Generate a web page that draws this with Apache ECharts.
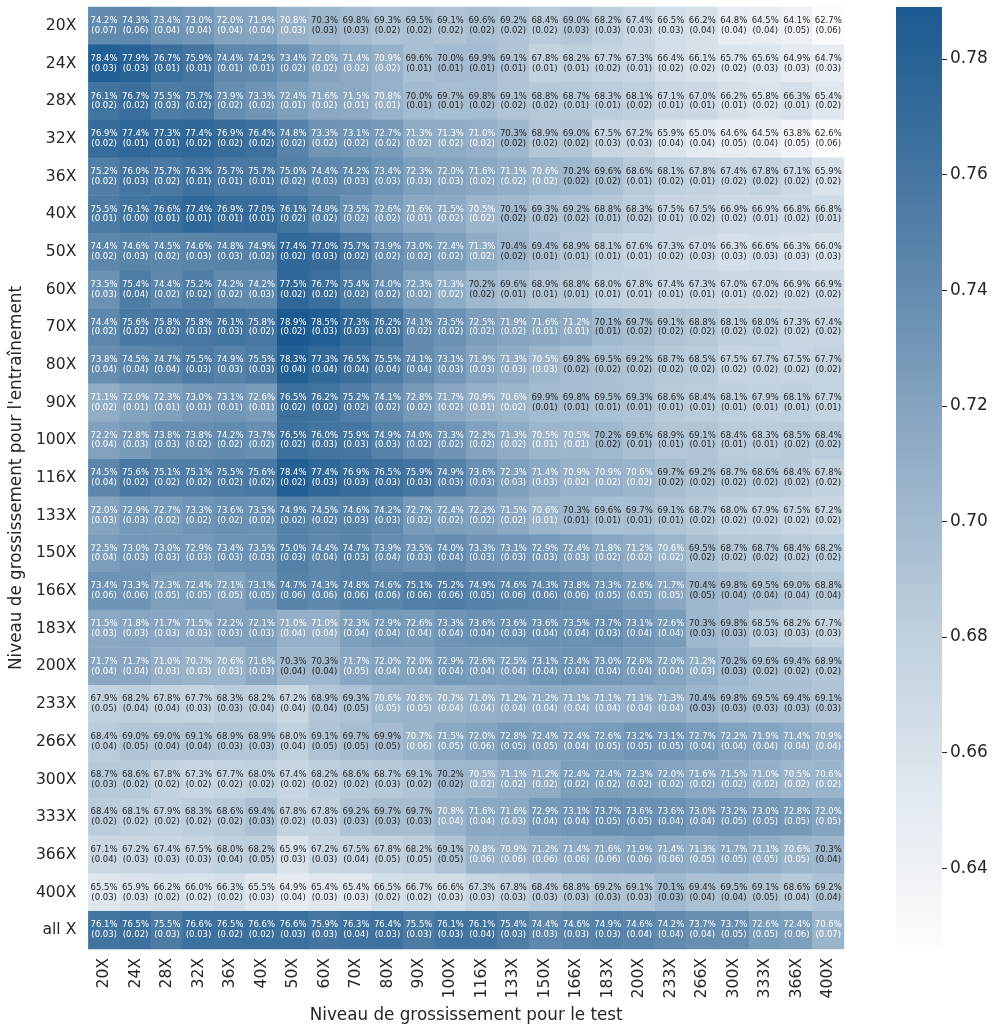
<!DOCTYPE html>
<html>
<head>
<meta charset="utf-8">
<script src="https://cdn.jsdelivr.net/npm/echarts@6/dist/echarts.min.js"></script>
<style>
  html, body { margin: 0; padding: 0; background: #fff; }
  #chart { width: 992px; height: 1029px; }
</style>
</head>
<body>
<div id="chart"></div>
<script>
// niveaux de grossissement (test en colonnes, entraînement en lignes)
const testLevels = ['20X','24X','28X','32X','36X','40X','50X','60X','70X','80X','90X','100X',
  '116X','133X','150X','166X','183X','200X','233X','266X','300X','333X','366X','400X']
const trainLevels = ['20X','24X','28X','32X','36X','40X','50X','60X','70X','80X','90X','100X',
  '116X','133X','150X','166X','183X','200X','233X','266X','300X','333X','366X','400X','all X']

// précision moyenne (%)
const accuracy = [
  [74.2,74.3,73.4,73.0,72.0,71.9,70.8,70.3,69.8,69.3,69.5,69.1,69.6,69.2,68.4,69.0,68.2,67.4,66.5,66.2,64.8,64.5,64.1,62.7],
  [78.4,77.9,76.7,75.9,74.4,74.2,73.4,72.0,71.4,70.9,69.6,70.0,69.9,69.1,67.8,68.2,67.7,67.3,66.4,66.1,65.7,65.6,64.9,64.7],
  [76.1,76.7,75.5,75.7,73.9,73.3,72.4,71.6,71.5,70.8,70.0,69.7,69.8,69.1,68.8,68.7,68.3,68.1,67.1,67.0,66.2,65.8,66.3,65.4],
  [76.9,77.4,77.3,77.4,76.9,76.4,74.8,73.3,73.1,72.7,71.3,71.3,71.0,70.3,68.9,69.0,67.5,67.2,65.9,65.0,64.6,64.5,63.8,62.6],
  [75.2,76.0,75.7,76.3,75.7,75.7,75.0,74.4,74.2,73.4,72.3,72.0,71.6,71.1,70.6,70.2,69.6,68.6,68.1,67.8,67.4,67.8,67.1,65.9],
  [75.5,76.1,76.6,77.4,76.9,77.0,76.1,74.9,73.5,72.6,71.6,71.5,70.5,70.1,69.3,69.2,68.8,68.3,67.5,67.5,66.9,66.9,66.8,66.8],
  [74.4,74.6,74.5,74.6,74.8,74.9,77.4,77.0,75.7,73.9,73.0,72.4,71.3,70.4,69.4,68.9,68.1,67.6,67.3,67.0,66.3,66.6,66.3,66.0],
  [73.5,75.4,74.4,75.2,74.2,74.2,77.5,76.7,75.4,74.0,72.3,71.3,70.2,69.6,68.9,68.8,68.0,67.8,67.4,67.3,67.0,67.0,66.9,66.9],
  [74.4,75.6,75.8,75.8,76.1,75.8,78.9,78.5,77.3,76.2,74.1,73.5,72.5,71.9,71.6,71.2,70.1,69.7,69.1,68.8,68.1,68.0,67.3,67.4],
  [73.8,74.5,74.7,75.5,74.9,75.5,78.3,77.3,76.5,75.5,74.1,73.1,71.9,71.3,70.5,69.8,69.5,69.2,68.7,68.5,67.5,67.7,67.5,67.7],
  [71.1,72.0,72.3,73.0,73.1,72.6,76.5,76.2,75.2,74.1,72.8,71.7,70.9,70.6,69.9,69.8,69.5,69.3,68.6,68.4,68.1,67.9,68.1,67.7],
  [72.2,72.8,73.8,73.8,74.2,73.7,76.5,76.0,75.9,74.9,74.0,73.3,72.2,71.3,70.5,70.5,70.2,69.6,68.9,69.1,68.4,68.3,68.5,68.4],
  [74.5,75.6,75.1,75.1,75.5,75.6,78.4,77.4,76.9,76.5,75.9,74.9,73.6,72.3,71.4,70.9,70.9,70.6,69.7,69.2,68.7,68.6,68.4,67.8],
  [72.0,72.9,72.7,73.3,73.6,73.5,74.9,74.5,74.6,74.2,72.7,72.4,72.2,71.5,70.6,70.3,69.6,69.7,69.1,68.7,68.0,67.9,67.5,67.2],
  [72.5,73.0,73.0,72.9,73.4,73.5,75.0,74.4,74.7,73.9,73.5,74.0,73.3,73.1,72.9,72.4,71.8,71.2,70.6,69.5,68.7,68.7,68.4,68.2],
  [73.4,73.3,72.3,72.4,72.1,73.1,74.7,74.3,74.8,74.6,75.1,75.2,74.9,74.6,74.3,73.8,73.3,72.6,71.7,70.4,69.8,69.5,69.0,68.8],
  [71.5,71.8,71.7,71.5,72.2,72.1,71.0,71.0,72.3,72.9,72.6,73.3,73.6,73.6,73.6,73.5,73.7,73.1,72.6,70.3,69.8,68.5,68.2,67.7],
  [71.7,71.7,71.0,70.7,70.6,71.6,70.3,70.3,71.7,72.0,72.0,72.9,72.6,72.5,73.1,73.4,73.0,72.6,72.0,71.2,70.2,69.6,69.4,68.9],
  [67.9,68.2,67.8,67.7,68.3,68.2,67.2,68.9,69.3,70.6,70.8,70.7,71.0,71.2,71.2,71.1,71.1,71.1,71.3,70.4,69.8,69.5,69.4,69.1],
  [68.4,69.0,69.0,69.1,68.9,68.9,68.0,69.1,69.7,69.9,70.7,71.5,72.0,72.8,72.4,72.4,72.6,73.2,73.1,72.7,72.2,71.9,71.4,70.9],
  [68.7,68.6,67.8,67.3,67.7,68.0,67.4,68.2,68.6,68.7,69.1,70.2,70.5,71.1,71.2,72.4,72.4,72.3,72.0,71.6,71.5,71.0,70.5,70.6],
  [68.4,68.1,67.9,68.3,68.6,69.4,67.8,67.8,69.2,69.7,69.7,70.8,71.6,71.6,72.9,73.1,73.7,73.6,73.6,73.0,73.2,73.0,72.8,72.0],
  [67.1,67.2,67.4,67.5,68.0,68.2,65.9,67.2,67.5,67.8,68.2,69.1,70.8,70.9,71.2,71.4,71.6,71.9,71.4,71.3,71.7,71.1,70.6,70.3],
  [65.5,65.9,66.2,66.0,66.3,65.5,64.9,65.4,65.4,66.5,66.7,66.6,67.3,67.8,68.4,68.8,69.2,69.1,70.1,69.4,69.5,69.1,68.6,69.2],
  [76.1,76.5,75.5,76.6,76.5,76.6,76.6,75.9,76.3,76.4,75.5,76.1,76.1,75.4,74.4,74.6,74.9,74.6,74.2,73.7,73.7,72.6,72.4,70.6]
]

// écart-type
const stdDev = [
  [.07,.06,.04,.04,.04,.04,.03,.03,.03,.02,.02,.02,.02,.02,.02,.03,.03,.03,.03,.04,.04,.04,.05,.06],
  [.03,.03,.01,.01,.01,.01,.02,.02,.02,.02,.01,.01,.01,.01,.01,.01,.02,.01,.02,.02,.02,.03,.03,.03],
  [.02,.02,.03,.02,.02,.02,.01,.02,.01,.01,.01,.01,.02,.02,.02,.01,.01,.02,.01,.01,.01,.02,.01,.02],
  [.02,.01,.01,.02,.02,.02,.02,.02,.02,.02,.02,.02,.02,.02,.02,.02,.03,.03,.04,.04,.05,.04,.05,.06],
  [.02,.03,.02,.01,.01,.01,.02,.03,.03,.03,.03,.03,.02,.02,.02,.02,.02,.01,.02,.01,.02,.02,.02,.02],
  [.01,.00,.01,.01,.01,.01,.02,.02,.02,.02,.01,.02,.02,.02,.02,.02,.01,.02,.01,.02,.02,.01,.02,.01],
  [.02,.03,.02,.03,.03,.02,.02,.03,.02,.02,.02,.02,.02,.02,.01,.01,.01,.01,.02,.03,.03,.03,.03,.03],
  [.03,.04,.02,.02,.02,.03,.02,.02,.02,.02,.02,.02,.02,.01,.01,.01,.01,.01,.01,.01,.01,.02,.02,.02],
  [.02,.02,.02,.03,.03,.02,.02,.03,.03,.03,.02,.02,.02,.02,.01,.01,.01,.02,.02,.02,.02,.02,.02,.02],
  [.04,.04,.04,.03,.03,.03,.04,.04,.04,.04,.04,.03,.03,.03,.03,.02,.02,.02,.02,.02,.02,.02,.02,.02],
  [.02,.01,.01,.01,.01,.01,.02,.02,.02,.02,.02,.02,.01,.02,.01,.01,.01,.01,.01,.01,.01,.01,.01,.01],
  [.04,.03,.03,.02,.02,.02,.02,.03,.03,.03,.02,.02,.02,.02,.01,.01,.02,.01,.01,.01,.01,.01,.02,.02],
  [.04,.02,.02,.02,.02,.02,.02,.03,.03,.03,.03,.03,.03,.03,.03,.02,.02,.02,.02,.02,.02,.02,.02,.02],
  [.03,.03,.02,.02,.02,.02,.02,.02,.03,.03,.02,.02,.02,.02,.01,.01,.01,.01,.01,.02,.02,.02,.02,.02],
  [.04,.03,.03,.03,.03,.03,.03,.04,.03,.04,.03,.04,.03,.03,.03,.03,.02,.02,.02,.02,.02,.02,.02,.02],
  [.06,.06,.05,.05,.05,.05,.06,.06,.06,.06,.06,.06,.05,.06,.06,.06,.05,.05,.05,.05,.04,.04,.04,.04],
  [.03,.03,.03,.03,.03,.03,.04,.04,.04,.04,.04,.04,.04,.03,.04,.04,.03,.04,.04,.03,.03,.03,.03,.03],
  [.04,.04,.03,.03,.03,.03,.04,.04,.05,.04,.04,.04,.04,.04,.04,.04,.04,.04,.04,.03,.03,.02,.02,.02],
  [.05,.04,.04,.03,.03,.04,.04,.04,.05,.05,.05,.04,.04,.04,.04,.04,.04,.04,.04,.03,.03,.03,.03,.03],
  [.04,.05,.04,.04,.03,.03,.04,.05,.05,.05,.06,.05,.06,.05,.05,.04,.05,.05,.05,.04,.04,.04,.04,.04],
  [.03,.02,.02,.02,.02,.02,.02,.02,.02,.03,.02,.02,.02,.02,.02,.02,.02,.02,.02,.02,.02,.02,.02,.02],
  [.02,.02,.02,.02,.02,.03,.02,.03,.03,.03,.03,.04,.04,.03,.04,.04,.05,.05,.04,.04,.05,.05,.05,.05],
  [.04,.03,.03,.03,.04,.05,.03,.03,.04,.05,.05,.05,.06,.06,.06,.06,.06,.06,.06,.05,.05,.05,.05,.04],
  [.03,.03,.02,.02,.02,.03,.04,.03,.03,.02,.02,.03,.03,.03,.03,.03,.03,.03,.03,.04,.04,.05,.04,.04],
  [.03,.02,.03,.03,.02,.02,.03,.03,.04,.03,.03,.03,.04,.03,.03,.03,.03,.04,.04,.04,.05,.05,.06,.07]
]

const colorbarTicks = [64, 66, 68, 70, 72, 74, 76, 78]

const vMin = 62.6
const vMax = 78.9
const palette = ['#fbfcfd', '#e1e8ef', '#bfd0de', '#98b2c9', '#6c92b4', '#41739f', '#1b5a91']
const font = 'DejaVu Sans'

let cells = []
accuracy.forEach(function (row, y) {
  row.forEach(function (v, x) {
    cells.push({
      value: [x, y, v],
      std: stdDev[y][x],
      label: { color: v >= 70.45 ? '#ffffff' : '#262626' }
    })
  })
})

let stops = palette.slice().reverse().map(function (c, i) {
  return { offset: i / (palette.length - 1), color: c }
})

let myChart = echarts.init(document.getElementById('chart'))
myChart.setOption({
  backgroundColor: '#ffffff',
  animation: false,
  textStyle: { fontFamily: font },
  grid: [
    { left: 84, top: 7, width: 760, height: 942 },
    { left: 896, top: 7, width: 46, height: 942 }
  ],
  xAxis: [
    {
      type: 'category', gridIndex: 0, data: testLevels,
      name: 'Niveau de grossissement pour le test',
      nameLocation: 'middle', nameGap: 58,
      nameTextStyle: { fontSize: 16.8, color: '#262626' },
      axisLine: { show: false }, axisTick: { show: false }, splitLine: { show: false },
      axisLabel: { rotate: 90, fontSize: 15.6, color: '#262626', margin: 9, interval: 0 }
    },
    {
      type: 'category', gridIndex: 1, data: [''],
      axisLine: { show: false }, axisTick: { show: false }, axisLabel: { show: false }
    }
  ],
  yAxis: [
    {
      type: 'category', gridIndex: 0, data: trainLevels, inverse: true,
      name: "Niveau de grossissement pour l'entraînement",
      nameLocation: 'middle', nameGap: 59, nameRotate: 90,
      nameTextStyle: { fontSize: 16.8, color: '#262626' },
      axisLine: { show: false }, axisTick: { show: false }, splitLine: { show: false },
      axisLabel: { fontSize: 15.6, color: '#262626', margin: 12, interval: 0 }
    },
    {
      type: 'value', gridIndex: 1, position: 'right',
      min: vMin, max: vMax,
      axisLine: { show: false },
      splitLine: { show: false },
      axisTick: { show: true, length: 5, customValues: colorbarTicks, lineStyle: { color: '#262626' } },
      axisLabel: {
        customValues: colorbarTicks, fontSize: 17, color: '#262626', margin: 8,
        formatter: function (v) { return (v / 100).toFixed(2) }
      }
    }
  ],
  visualMap: {
    type: 'continuous', show: false, seriesIndex: 0, dimension: 2,
    min: vMin, max: vMax,
    inRange: { color: palette }
  },
  series: [
    {
      type: 'heatmap', xAxisIndex: 0, yAxisIndex: 0,
      data: cells,
      itemStyle: { borderWidth: 0 },
      label: {
        show: true, fontSize: 8.5, lineHeight: 9.8, fontFamily: font,
        formatter: function (p) {
          return p.value[2].toFixed(1) + '%\n(' + p.data.std.toFixed(2) + ')'
        }
      }
    },
    {
      // barre de couleur
      type: 'bar', xAxisIndex: 1, yAxisIndex: 1,
      data: [vMax], barWidth: '100%', silent: true,
      itemStyle: { color: new echarts.graphic.LinearGradient(0, 0, 0, 1, stops) }
    }
  ]
})
</script>
</body>
</html>
